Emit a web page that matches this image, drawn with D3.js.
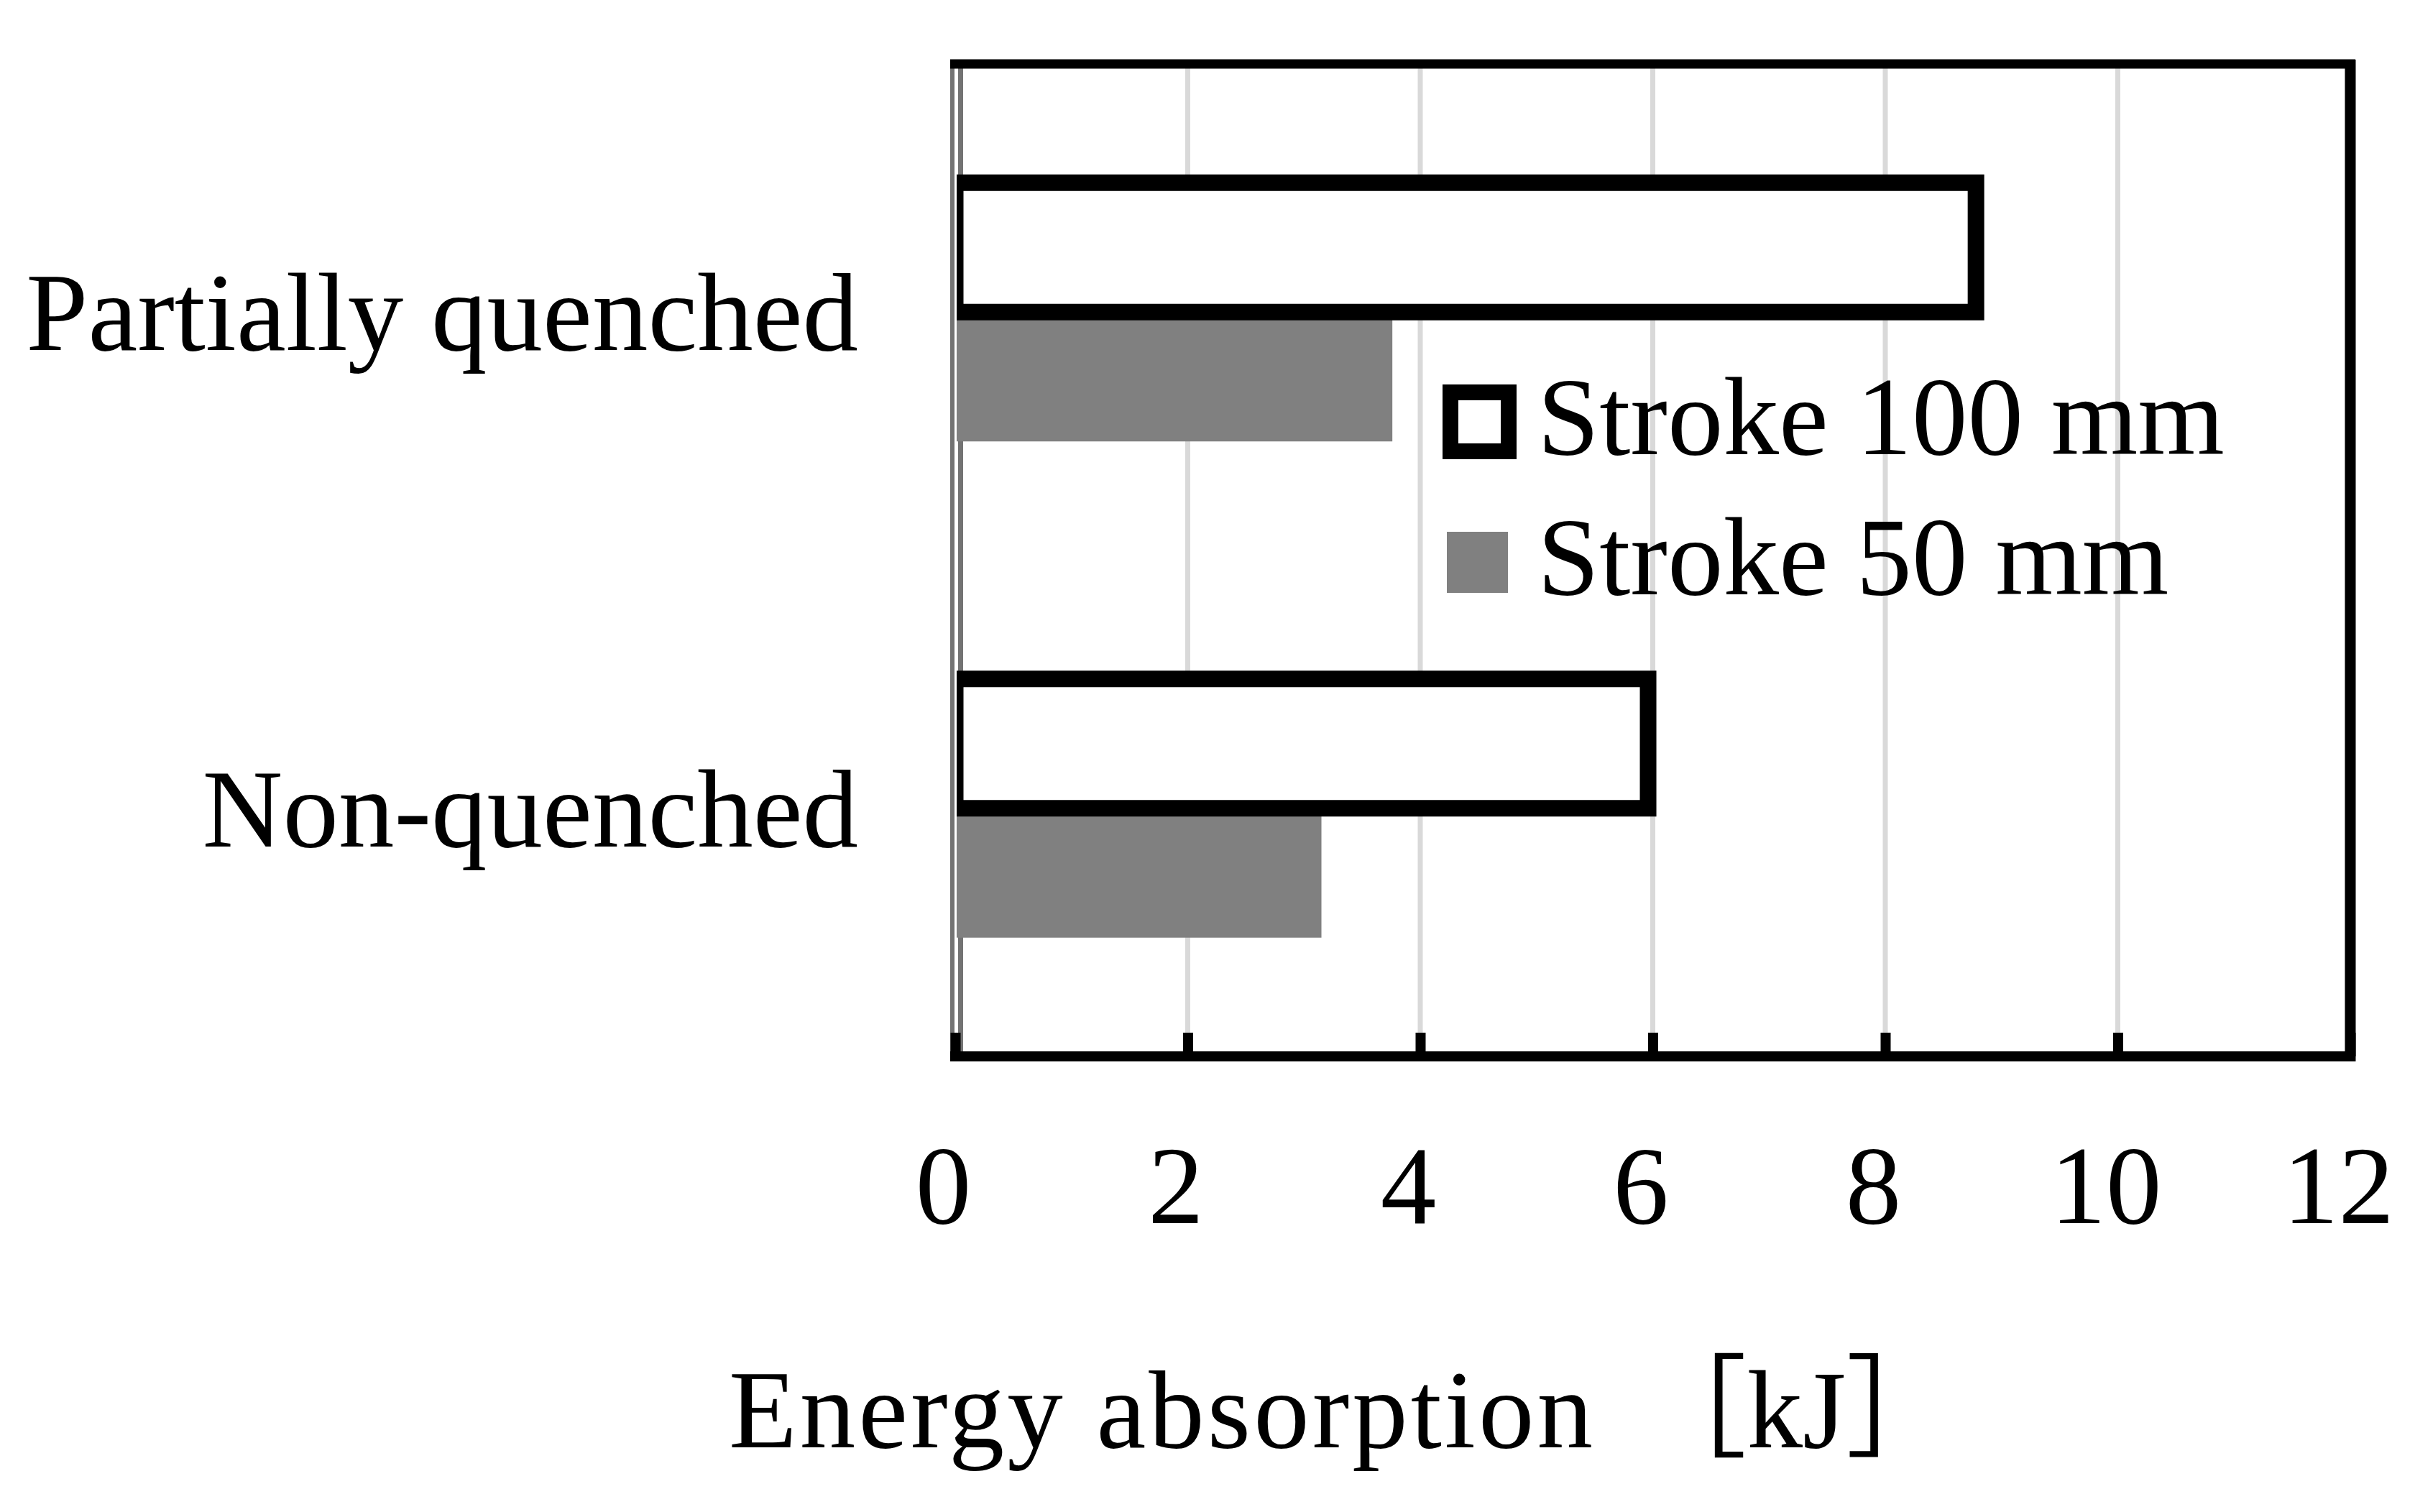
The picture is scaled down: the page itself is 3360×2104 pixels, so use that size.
<!DOCTYPE html>
<html>
<head>
<meta charset="utf-8">
<script src="https://cdn.jsdelivr.net/npm/d3@7"></script>
<style>
  html, body { margin: 0; padding: 0; background: #fff; }
  svg { display: block; }
  text { font-family: "Liberation Serif", "Noto Sans CJK JP", serif; fill: #000; }
</style>
</head>
<body>
<svg id="chart" width="3360" height="2104"></svg>
<script>
// ---- data ----
const categories = ["Partially quenched", "Non-quenched"];
const seriesNames = ["Stroke 100 mm", "Stroke 50 mm"];
const stroke100 = [8.78, 5.96];
const stroke50 = [3.76, 3.15];
const tickValues = [0, 2, 4, 6, 8, 10, 12];
const axisTitleMain = "Energy absorption";
const axisTitleUnit = "\u3000\uFF3BkJ\uFF3D";

// ---- layout ----
const plot = { left: 1329, right: 3270, top: 89, bottom: 1470 };
const FS = 155;

const svg = d3.select("#chart");

const x = d3.scaleLinear().domain([0, 12]).range([plot.left, plot.right]);
const y = d3.scaleBand().domain(categories).range([plot.top, plot.bottom]).padding(0);
const ySub = d3.scaleBand().domain(seriesNames).range([0, y.bandwidth()])
  .paddingInner(0).paddingOuter(0.918);

const rows = categories.map((c, i) => ({
  cat: c,
  values: [
    { s: seriesNames[0], v: stroke100[i] },
    { s: seriesNames[1], v: stroke50[i] }
  ]
}));

// gridlines
svg.append("g").selectAll("line")
  .data(tickValues.filter(t => t > 0 && t < 12))
  .join("line")
  .attr("x1", d => x(d)).attr("x2", d => x(d))
  .attr("y1", plot.top).attr("y2", plot.bottom)
  .attr("stroke", "#d9d9d9").attr("stroke-width", 7);

// second (inner) left axis line
svg.append("line")
  .attr("x1", 1336.5).attr("x2", 1336.5)
  .attr("y1", plot.top).attr("y2", plot.bottom)
  .attr("stroke", "#737373").attr("stroke-width", 7);

// clip for bars
svg.append("clipPath").attr("id", "plotclip")
  .append("rect")
  .attr("x", 1331).attr("y", plot.top)
  .attr("width", plot.right - 1331).attr("height", plot.bottom - plot.top);

const barsG = svg.append("g").attr("clip-path", "url(#plotclip)");

// gray bars (Stroke 50) first
barsG.selectAll("rect.s50")
  .data(rows)
  .join("rect")
  .attr("class", "s50")
  .attr("x", x(0))
  .attr("y", d => y(d.cat) + ySub(seriesNames[1]))
  .attr("width", d => x(d.values[1].v) - x(0))
  .attr("height", ySub.bandwidth())
  .attr("fill", "#808080");

// outlined bars (Stroke 100)
barsG.selectAll("rect.s100")
  .data(rows)
  .join("rect")
  .attr("class", "s100")
  .attr("x", x(0))
  .attr("y", d => y(d.cat) + ySub(seriesNames[0]))
  .attr("width", d => x(d.values[0].v) - x(0))
  .attr("height", ySub.bandwidth())
  .attr("fill", "#ffffff")
  .attr("stroke", "#000")
  .attr("stroke-width", 23);

// outer left axis line
svg.append("line")
  .attr("x1", 1325).attr("x2", 1325)
  .attr("y1", plot.top - 6).attr("y2", plot.bottom + 6)
  .attr("stroke", "#737373").attr("stroke-width", 6);

// frame: top, right, bottom
svg.append("line")
  .attr("x1", 1322).attr("x2", plot.right + 7)
  .attr("y1", plot.top).attr("y2", plot.top)
  .attr("stroke", "#000").attr("stroke-width", 13);
svg.append("line")
  .attr("x1", plot.right).attr("x2", plot.right)
  .attr("y1", plot.top - 6).attr("y2", plot.bottom + 7)
  .attr("stroke", "#000").attr("stroke-width", 15);
svg.append("line")
  .attr("x1", 1322).attr("x2", plot.right + 7)
  .attr("y1", plot.bottom).attr("y2", plot.bottom)
  .attr("stroke", "#000").attr("stroke-width", 14);

// x axis (ticks inward + labels)
const xAxis = d3.axisBottom(x)
  .tickValues(tickValues)
  .tickFormat(d3.format("d"))
  .tickSize(-33)
  .tickPadding(122);

const gx = svg.append("g")
  .attr("transform", `translate(0,${plot.bottom})`)
  .call(xAxis);
gx.select(".domain").remove();
gx.selectAll(".tick line")
  .attr("stroke", "#000").attr("stroke-width", 14);
gx.selectAll(".tick text")
  .attr("font-size", FS)
  .attr("dx", -17)
  .style("font-family", '"Liberation Serif", serif');
gx.attr("font-family", null).attr("font-size", null);

// category labels
svg.append("g").selectAll("text")
  .data(categories)
  .join("text")
  .attr("x", 1194)
  .attr("y", d => y(d) + y.bandwidth() / 2 + 53)
  .attr("text-anchor", "end")
  .attr("font-size", FS)
  .text(d => d);

// axis title
const title = svg.append("text")
  .attr("x", 1014)
  .attr("y", 2014)
  .attr("font-size", FS);
title.append("tspan")
  .attr("letter-spacing", 4)
  .text(axisTitleMain);
title.append("tspan")
  .attr("dx", -22)
  .text(axisTitleUnit);

// legend
const legend = svg.append("g");
const legendItems = [
  { name: seriesNames[0], y: 632 },
  { name: seriesNames[1], y: 827 }
];
legend.append("rect")
  .attr("x", 2018).attr("y", 546).attr("width", 81).attr("height", 82)
  .attr("fill", "#fff").attr("stroke", "#000").attr("stroke-width", 22);
legend.append("rect")
  .attr("x", 2013).attr("y", 740).attr("width", 85).attr("height", 85)
  .attr("fill", "#808080");
legend.selectAll("text")
  .data(legendItems)
  .join("text")
  .attr("x", 2139)
  .attr("y", d => d.y)
  .attr("font-size", FS)
  .text(d => d.name);
</script>
</body>
</html>
